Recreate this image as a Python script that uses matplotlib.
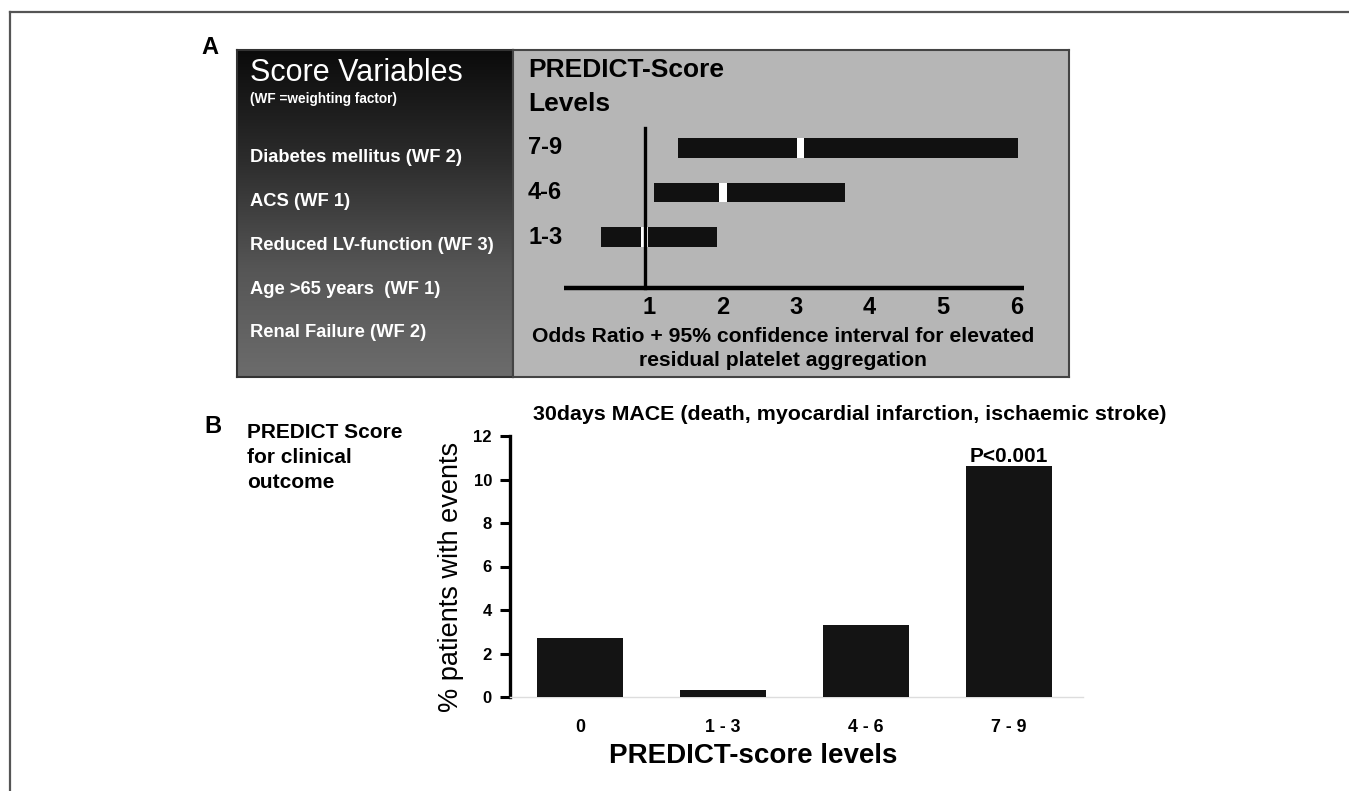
import numpy as np
import matplotlib
matplotlib.use("Agg")
import matplotlib.pyplot as plt
from matplotlib.colors import LinearSegmentedColormap

plt.rcParams['font.family'] = ['Liberation Sans', 'DejaVu Sans']

# ---------------- data ----------------
score_variables = ["Diabetes mellitus (WF 2)", "ACS (WF 1)", "Reduced LV-function (WF 3)",
                   "Age >65 years  (WF 1)", "Renal Failure (WF 2)"]
forest_levels = ["1-3", "4-6", "7-9"]
or_point = [0.99, 2.06, 3.11]
ci_low = [0.40, 1.12, 1.45]
ci_high = [1.98, 3.72, 6.07]
or_ticks = [1, 2, 3, 4, 5, 6]

bar_categories = ["0", "1 - 3", "4 - 6", "7 - 9"]
bar_values = [2.7, 0.33, 3.32, 10.6]
bar_yticks = [0, 2, 4, 6, 8, 10, 12]

W, H = 1349, 791
fig = plt.figure(figsize=(W / 100, H / 100), dpi=100)
fig.patch.set_facecolor('white')

def fx(px):
    return px / W

def fy(py):
    return 1 - py / H

def ftext(px, py, s, **kw):
    fig.text(fx(px), fy(py), s, **kw)

# figure border (top & left)
fig.add_artist(plt.Line2D([fx(10), 1], [fy(12), fy(12)], color='#555555', lw=1.6))
fig.add_artist(plt.Line2D([fx(10), fx(10)], [fy(12), 0], color='#555555', lw=1.6))

# ---------------- Panel A ----------------
ftext(210, 47, "A", fontsize=17, fontweight='bold', ha='center', va='center')

# left gradient box
ax_l = fig.add_axes([fx(237), fy(377), fx(513) - fx(237), fy(50) - fy(377)])
cmap = LinearSegmentedColormap.from_list('g', ['#0b0b0b', '#2c2c2c', '#555555', '#6c6c6c'])
grad = np.linspace(0, 1, 256).reshape(-1, 1)
ax_l.imshow(grad, aspect='auto', cmap=cmap, extent=[0, 1, 0, 1], origin='upper')
ax_l.set_xticks([]); ax_l.set_yticks([])
for s in ax_l.spines.values():
    s.set_color('#333333'); s.set_linewidth(1.5)

ftext(250, 73, "Score Variables", fontsize=22, color='white', ha='left', va='center')
ftext(250, 99, "(WF =weighting factor)", fontsize=9.8, color='white', fontweight='bold',
      ha='left', va='center')
var_y = [158, 202, 245, 289, 333]
for s, y in zip(score_variables, var_y):
    ftext(250, y, s, fontsize=13.2, color='white', fontweight='bold', ha='left', va='center')

# forest plot panel
ax_f = fig.add_axes([fx(513), fy(377), fx(1069) - fx(513), fy(50) - fy(377)])
ax_f.set_facecolor('#b6b6b6')
px_one, px_per = 645.0, 73.6
ax_f.set_xlim((513 - px_one) / px_per + 1, (1069 - px_one) / px_per + 1)
ypx0, ypx_step = 237.0, 44.5
ax_f.set_ylim((ypx0 - 377) / ypx_step, (ypx0 - 50) / ypx_step)
ax_f.set_xticks([]); ax_f.set_yticks([])
for s in ax_f.spines.values():
    s.set_color('#444444'); s.set_linewidth(1.5)

ypos = np.arange(len(forest_levels))
bh = 0.43
ax_f.barh(ypos, np.array(ci_high) - np.array(ci_low), left=ci_low, height=bh,
          color='#111111', zorder=3)
ax_f.barh(ypos, 0.1, left=np.array(or_point) - 0.05, height=bh, color='white', zorder=4)

y_axis_line = (ypx0 - 288) / ypx_step
ax_f.plot([(564 - px_one) / px_per + 1, (1024 - px_one) / px_per + 1],
          [y_axis_line, y_axis_line], color='black', lw=3.2, solid_capstyle='butt', zorder=2)
ax_f.plot([1, 1], [(ypx0 - 128) / ypx_step, y_axis_line], color='black', lw=2.4, zorder=5)

label_x = (528 - px_one) / px_per + 1
for lv, y in zip(forest_levels, ypos):
    ax_f.text(label_x, y, lv, fontsize=17, fontweight='bold', ha='left', va='center')
tick_y = (ypx0 - 308) / ypx_step
for t in or_ticks:
    ax_f.text(t + 0.05, tick_y, str(t), fontsize=17, fontweight='bold', ha='center', va='center')

ftext(528, 70, "PREDICT-Score", fontsize=19, fontweight='bold', ha='left', va='center')
ftext(528, 104, "Levels", fontsize=19, fontweight='bold', ha='left', va='center')
ftext(783, 337, "Odds Ratio + 95% confidence interval for elevated", fontsize=15.2,
      fontweight='bold', ha='center', va='center')
ftext(783, 360, "residual platelet aggregation", fontsize=15.2,
      fontweight='bold', ha='center', va='center')

# ---------------- Panel B ----------------
ftext(213, 427, "B", fontsize=17, fontweight='bold', ha='center', va='center')
for i, line in enumerate(["PREDICT Score", "for clinical", "outcome"]):
    ftext(247, 432 + 25.5 * i, line, fontsize=15, fontweight='bold', ha='left', va='center')

ax_b = fig.add_axes([fx(510), fy(697), fx(1083) - fx(510), fy(436) - fy(697)])
xpos = np.arange(len(bar_categories))
ax_b.bar(xpos, bar_values, width=0.6, color='#141414', zorder=3)
ax_b.set_xlim(-0.49, 3.52)
ax_b.set_ylim(0, 12)
ax_b.set_yticks(bar_yticks)
ax_b.set_yticklabels([str(v) for v in bar_yticks], fontsize=12, fontweight='bold')
ax_b.set_xticks(xpos)
ax_b.set_xticklabels(bar_categories, fontsize=12.8, fontweight='bold')
ax_b.tick_params(axis='y', length=7, width=2.2, direction='out', pad=6)
ax_b.tick_params(axis='x', length=0, pad=16)
ax_b.spines['top'].set_visible(False)
ax_b.spines['right'].set_visible(False)
ax_b.spines['left'].set_linewidth(2.4)
ax_b.spines['bottom'].set_color('#dddddd')
ax_b.spines['bottom'].set_linewidth(1.0)
ax_b.set_ylabel("% patients with events", fontsize=19.5)
ax_b.yaxis.set_label_coords((451 - 510) / 573, (697 - 577) / 261)
ax_b.set_xlabel("PREDICT-score levels", fontsize=20, fontweight='bold')
ax_b.xaxis.set_label_coords((753 - 510) / 573, -(756 - 697) / 261)
ax_b.xaxis.label.set_va('center')
ax_b.yaxis.label.set_va('center')
ax_b.text(3, 11.08, "P<0.001", fontsize=15, fontweight='bold', ha='center', va='center')
ftext(850, 415, "30days MACE (death, myocardial infarction, ischaemic stroke)",
      fontsize=15.4, fontweight='bold', ha='center', va='center')

fig.savefig("out.png", dpi=100, facecolor='white')
